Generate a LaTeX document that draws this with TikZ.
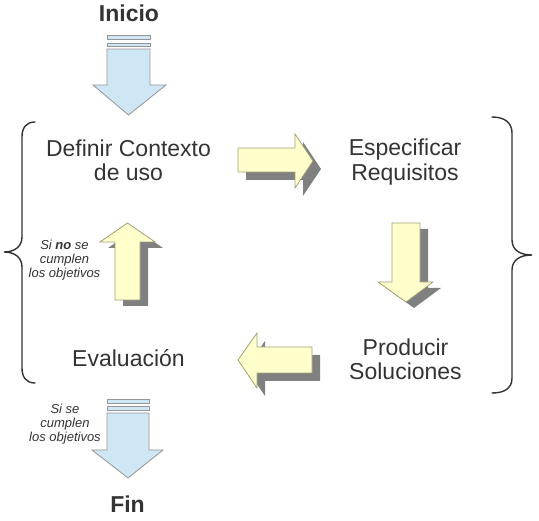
\documentclass[tikz,border=0pt]{standalone}
\usepackage{fontspec}
\setmainfont{Liberation Sans}
\definecolor{txt}{RGB}{51,51,51}
\definecolor{bluefill}{RGB}{207,230,245}
\definecolor{blueline}{RGB}{150,150,150}
\definecolor{yelfill}{RGB}{255,255,204}
\definecolor{yelline}{RGB}{160,160,120}
\definecolor{shadowc}{RGB}{128,128,128}
\begin{document}
\begin{tikzpicture}[x=1pt,y=-1pt,
  big/.style={font=\fontsize{23}{24.5}\selectfont, text=txt, inner sep=0pt, align=center},
  title/.style={font=\fontsize{23}{25}\selectfont\bfseries, text=txt, inner sep=0pt, anchor=base},
  small/.style={font=\fontsize{13}{14}\selectfont\itshape, text=txt, inner sep=0pt, align=center},
  bluearrow/.style={fill=bluefill, draw=blueline, line width=0.8pt, line join=miter},
  yelarrow/.style={fill=yelfill, draw=yelline, line width=0.8pt, line join=miter},
  shadowarrow/.style={fill=shadowc, draw=none},
  brace/.style={draw=txt, line width=1.4pt, line cap=round}
]
\useasboundingbox (0,0) rectangle (539,521);

% titles
\node[title] (inicio) at (129,22) {Inicio};
\node[title] (fin) at (127.5,513) {Fin};

% blue arrows
\draw[bluearrow] (107,35) rectangle (150,39);
\draw[bluearrow] (107,43) rectangle (150,46);
\draw[bluearrow] (107,49) -- (150,49) -- (150,85) -- (166,85) -- (128.5,115) -- (93,85) -- (107,85) -- cycle;

\draw[bluearrow] (107,399) rectangle (149,403);
\draw[bluearrow] (107,406) rectangle (149,410);
\draw[bluearrow] (107,413) -- (149,413) -- (149,450) -- (163,450) -- (128,478) -- (92,450) -- (107,450) -- cycle;

% yellow arrows with shadows
% right
\fill[shadowarrow, shift={(8,8)}] (238,148) -- (295,148) -- (295,134) -- (313,161) -- (295,188) -- (295,172) -- (238,172) -- cycle;
\draw[yelarrow] (238,148) -- (295,148) -- (295,134) -- (313,161) -- (295,188) -- (295,172) -- (238,172) -- cycle;
% down
\fill[shadowarrow, shift={(8,6)}] (392,223) -- (420,223) -- (420,282) -- (433,282) -- (406,302) -- (378,282) -- (392,282) -- cycle;
\draw[yelarrow] (392,223) -- (420,223) -- (420,282) -- (433,282) -- (406,302) -- (378,282) -- (392,282) -- cycle;
% left
\fill[shadowarrow, shift={(8,8)}] (312,347) -- (257,347) -- (257,333) -- (238,360) -- (257,388) -- (257,373) -- (312,373) -- cycle;
\draw[yelarrow] (312,347) -- (257,347) -- (257,333) -- (238,360) -- (257,388) -- (257,373) -- (312,373) -- cycle;
% up
\fill[shadowarrow, shift={(8,6)}] (115,300) -- (115,242) -- (100,242) -- (127.5,223) -- (155,242) -- (140,242) -- (140,300) -- cycle;
\draw[yelarrow] (115,300) -- (115,242) -- (100,242) -- (127.5,223) -- (155,242) -- (140,242) -- (140,300) -- cycle;

% main labels (base anchor = last line baseline)
\node[big, anchor=base] (ctx) at (128.5,181) {Definir Contexto\\de uso};
\node[big, anchor=base] (req) at (405,180.5) {Especificar\\Requisitos};
\node[big, anchor=base] (sol) at (405.5,380) {Producir\\Soluciones};
\node[big, anchor=base] (eva) at (128.5,367) {Evaluación};

% small labels
\node[small, anchor=base] (nocumple) at (64.5,278) {Si \textbf{no} se\\cumplen\\los objetivos};
\node[small, anchor=base] (cumple) at (65,442) {Si se\\cumplen\\los objetivos};

% braces
\draw[brace] (35,122) .. controls (26,122) and (22,128) .. (22,137) -- (22,237) .. controls (22,247) and (14,252) .. (4,252) .. controls (14,252) and (22,257) .. (22,267) -- (22,368) .. controls (22,377) and (26,383) .. (35,383);
\draw[brace] (492,117) .. controls (505,117) and (512,123) .. (512,133) -- (512,240) .. controls (512,250) and (520,255) .. (532,255) .. controls (520,255) and (512,260) .. (512,270) -- (512,378) .. controls (512,388) and (505,393) .. (492,393);
\end{tikzpicture}
\end{document}
